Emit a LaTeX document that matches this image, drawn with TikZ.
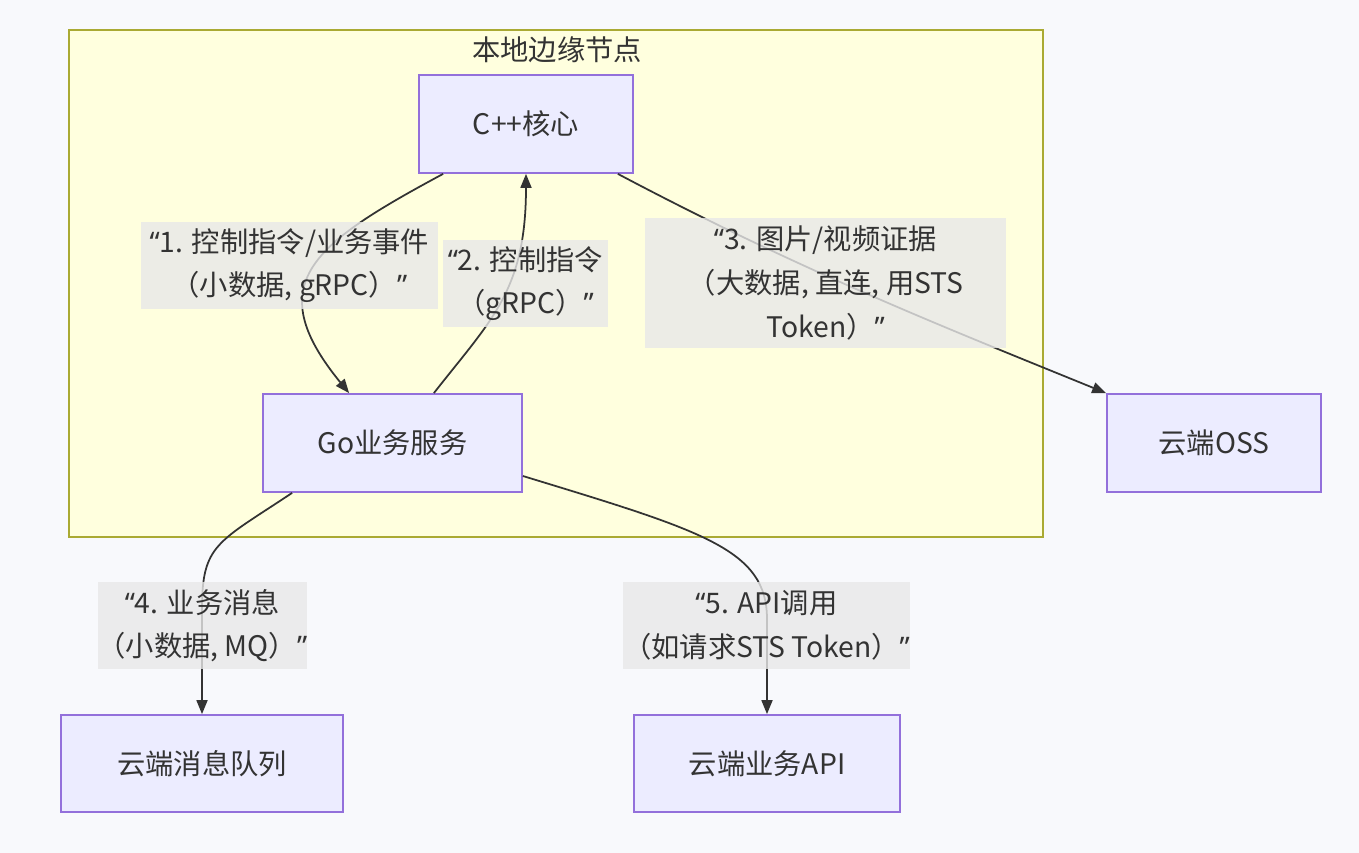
\documentclass[tikz,border=0pt]{standalone}
\usepackage{fontspec}
\setmainfont{Noto Sans CJK SC}
\newfontfamily\quotefont{Noto Sans}
\newcommand{\oq}{{\quotefont “}}
\newcommand{\cq}{{\quotefont ”}}
\usetikzlibrary{arrows.meta}
\usetikzlibrary{positioning}

\definecolor{bgcol}{HTML}{F8F9FC}
\definecolor{edgefill}{HTML}{FFFFDE}
\definecolor{edgeline}{HTML}{AAAA33}
\definecolor{boxfill}{HTML}{ECECFF}
\definecolor{boxline}{HTML}{9370DB}
\definecolor{lblfill}{HTML}{E8E8E8}
\definecolor{ink}{HTML}{333333}

\tikzset{
  box/.style={draw=boxline,fill=boxfill,line width=1pt,text=ink,minimum height=1.96cm},
  lbl/.style={fill=lblfill,fill opacity=0.8,text opacity=1,text=ink,align=center,inner sep=0pt,minimum height=1.74cm},
  flow/.style={->,line width=1pt,draw=ink},
  >={Triangle[length=0.28cm,width=0.22cm]}
}

\begin{document}
\begin{tikzpicture}[font=\fontsize{16.1pt}{24.8pt}\selectfont]
        \fill[bgcol] (0,0) rectangle (27.18,-17.06);
        \useasboundingbox (0,0) rectangle (27.18,-17.06);

        \draw[edgeline,fill=edgefill,line width=0.8pt] (1.38,-0.60) rectangle (20.86,-10.74);
        \node[text=ink] (edgetitle) at (11.14,-1.0) {本地边缘节点};

        \node[box,minimum width=4.28cm] (core) at (10.52,-2.48) {C++核心};
        \node[box,minimum width=5.18cm] (gosvc) at (7.85,-8.86) {Go业务服务};
        \node[box,minimum width=4.28cm] (oss) at (24.28,-8.86) {云端OSS};
        \node[box,minimum width=5.64cm,minimum height=1.94cm] (mq) at (4.04,-15.27) {云端消息队列};
        \node[box,minimum width=5.32cm,minimum height=1.94cm] (api) at (15.34,-15.27) {云端业务API};

        \draw[flow] ([xshift=0.5cm]core.south west) .. controls +(-2.6,-1.4) and +(-1.8,2.2) .. ([xshift=1.74cm]gosvc.north west);
        \draw[flow] ([xshift=-1.78cm]gosvc.north east) .. controls +(1.14,1.46) and +(0,-2.34) .. (core.south);
        \draw[flow] ([xshift=-0.32cm]core.south east) .. controls +(3.66,-1.94) and +(-3.14,1.28) .. (oss.north west);
        \draw[flow] ([xshift=0.6cm]gosvc.south west) .. controls +(-1.5,-1.0) and +(0,1.3) .. ([yshift=2.1cm]mq.north) -- (mq.north);
        \draw[flow] ([yshift=-0.66cm]gosvc.east) .. controls +(3.6,-1.1) and +(0,1.4) .. ([yshift=1.9cm]api.north) -- (api.north);

        \node[lbl,minimum width=5.94cm] (lblcmd) at (5.79,-5.31) {\oq1. 控制指令/业务事件\\（小数据, gRPC）\cq};
        \node[lbl,minimum width=3.30cm] (lblctl) at (10.51,-5.67) {\oq2. 控制指令\\（gRPC）\cq};
        \node[lbl,minimum width=7.22cm,minimum height=2.60cm] (lblimg) at (16.51,-5.66) {\oq3. 图片/视频证据\\（大数据, 直连, 用STS\\Token）\cq};
        \node[lbl,minimum width=4.10cm] (lblmsg) at (4.05,-12.51) {\oq4. 业务消息\\（小数据, MQ）\cq};
        \node[lbl,minimum width=5.46cm] (lblapi) at (15.33,-12.51) {\oq5. API调用\\（如请求STS Token）\cq};
      \end{tikzpicture}
\end{document}
